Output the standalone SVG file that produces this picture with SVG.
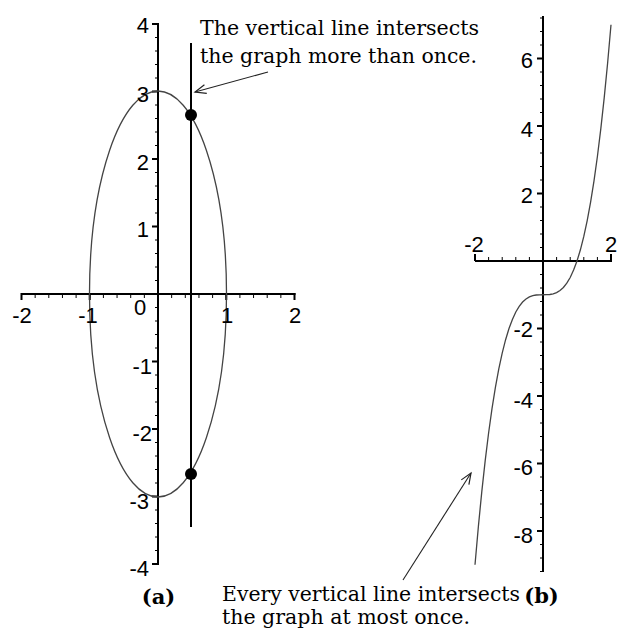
<svg xmlns="http://www.w3.org/2000/svg" width="618" height="634" viewBox="0 0 618 634">
<style>
.axis{stroke:#000;stroke-width:2;fill:none}
.minor{stroke:#000;stroke-width:3;fill:none}
.major{stroke:#000;stroke-width:2;fill:none}
.curve{stroke:#444;stroke-width:1.3;fill:none}
.num{font-family:"Liberation Sans",Arial,sans-serif;font-size:22px;fill:#000}
.note{font-family:"DejaVu Serif","Liberation Serif",serif;font-size:20px;fill:#000}
.cap{font-family:"DejaVu Serif","Liberation Serif",serif;font-size:21px;font-weight:bold;fill:#000}
.arrow{stroke:#222;stroke-width:1.1;fill:none}
</style>
<defs>
<marker id="open" markerUnits="userSpaceOnUse" markerWidth="14" markerHeight="12" refX="12" refY="5" orient="auto" viewBox="0 0 14 10">
<path d="M1,0.5 L12,5 L1,9.5" fill="none" stroke="#222" stroke-width="1.2"/>
</marker>
</defs>
<rect width="618" height="634" fill="#fff"/>

<g id="graph-a">
<line class="axis" x1="158" y1="23" x2="158" y2="565"/>
<line class="axis" x1="21" y1="294" x2="295.5" y2="294"/>
<line class="minor" x1="156.5" y1="23.5" x2="156.5" y2="565" stroke-dasharray="1 12.5"/>
<line class="minor" x1="21" y1="296.5" x2="295.5" y2="296.5" stroke-dasharray="1 12.65"/>
<path class="major" d="M152,24H158M152,91.5H158M152,159H158M152,226.5H158M152,361.5H158M152,429H158M152,496.5H158M152,564H158M21.5,293V300M89.75,293V300M226.25,293V300M294.5,293V300"/>
<ellipse class="curve" cx="158" cy="294" rx="68.5" ry="203"/>
<line stroke="#000" stroke-width="2" x1="191" y1="43" x2="191" y2="527"/>
<circle cx="191" cy="115" r="6" fill="#000"/>
<circle cx="191" cy="474" r="6" fill="#000"/>
<g class="num" text-anchor="end">
<text x="149" y="33">4</text>
<text x="149" y="102">3</text>
<text x="149" y="170">2</text>
<text x="149" y="237">1</text>
<text x="152" y="374">-1</text>
<text x="152" y="441">-2</text>
<text x="149" y="509">-3</text>
<text x="149" y="576">-4</text>
</g>
<g class="num" text-anchor="middle">
<text x="22" y="323">-2</text>
<text x="88" y="323">-1</text>
<text x="140" y="315">0</text>
<text x="227" y="323">1</text>
<text x="295" y="323">2</text>
</g>
<text class="cap" x="158.5" y="604" text-anchor="middle">(a)</text>
</g>

<g id="graph-b">
<line class="axis" x1="543" y1="16" x2="543" y2="572"/>
<line class="axis" x1="475" y1="261" x2="612" y2="261"/>
<line class="minor" x1="541.5" y1="17.5" x2="541.5" y2="572" stroke-dasharray="1 12.5"/>
<line class="minor" x1="474.5" y1="258.5" x2="612" y2="258.5" stroke-dasharray="1 12.6"/>
<path class="major" d="M537,58.5H543M537,126H543M537,193.5H543M537,328.5H543M537,396H543M537,463.5H543M537,531H543M475,254V261M611,254V261"/>
<path class="curve" d="M475,564.75 L478.4,526.2 L481.8,491.6 L485.2,460.6 L488.6,433 L492,408.7 L495.4,387.4 L498.8,368.9 L502.2,353.1 L505.6,339.7 L509,328.5 L512.4,319.4 L515.8,312 L519.2,306.3 L522.6,302 L526,299 L529.4,296.9 L532.8,295.7 L536.2,295 L539.6,294.8 L543,294.75 L546.4,294.7 L549.8,294.5 L553.2,293.8 L556.6,292.6 L560,290.5 L563.4,287.5 L566.8,283.2 L570.2,277.5 L573.6,270.1 L577,261 L580.4,249.8 L583.8,236.4 L587.2,220.6 L590.6,202.1 L594,180.8 L597.4,156.5 L600.8,128.9 L604.2,97.9 L607.6,63.3 L611,24.75"/>
<g class="num" text-anchor="end">
<text x="533" y="68">6</text>
<text x="533" y="137">4</text>
<text x="533" y="203">2</text>
<text x="533" y="337">-2</text>
<text x="533" y="408">-4</text>
<text x="533" y="475">-6</text>
<text x="533" y="543">-8</text>
</g>
<g class="num" text-anchor="middle">
<text x="474" y="252">-2</text>
<text x="611" y="252">2</text>
</g>
<text class="cap" x="541.5" y="603" text-anchor="middle">(b)</text>
</g>

<g id="note-top">
<text class="note" x="200" y="35" textLength="279" lengthAdjust="spacingAndGlyphs">The vertical line intersects</text>
<text class="note" x="200" y="63" textLength="277" lengthAdjust="spacingAndGlyphs">the graph more than once.</text>
</g>
<g id="note-bottom">
<text class="note" x="222" y="601" textLength="298" lengthAdjust="spacingAndGlyphs">Every vertical line intersects</text>
<text class="note" x="222" y="624" textLength="248" lengthAdjust="spacingAndGlyphs">the graph at most once.</text>
</g>

<g id="connectors">
<line class="arrow" x1="268" y1="72" x2="195" y2="92" marker-end="url(#open)"/>
<line class="arrow" x1="403" y1="580" x2="471" y2="473" marker-end="url(#open)"/>
</g>
</svg>
